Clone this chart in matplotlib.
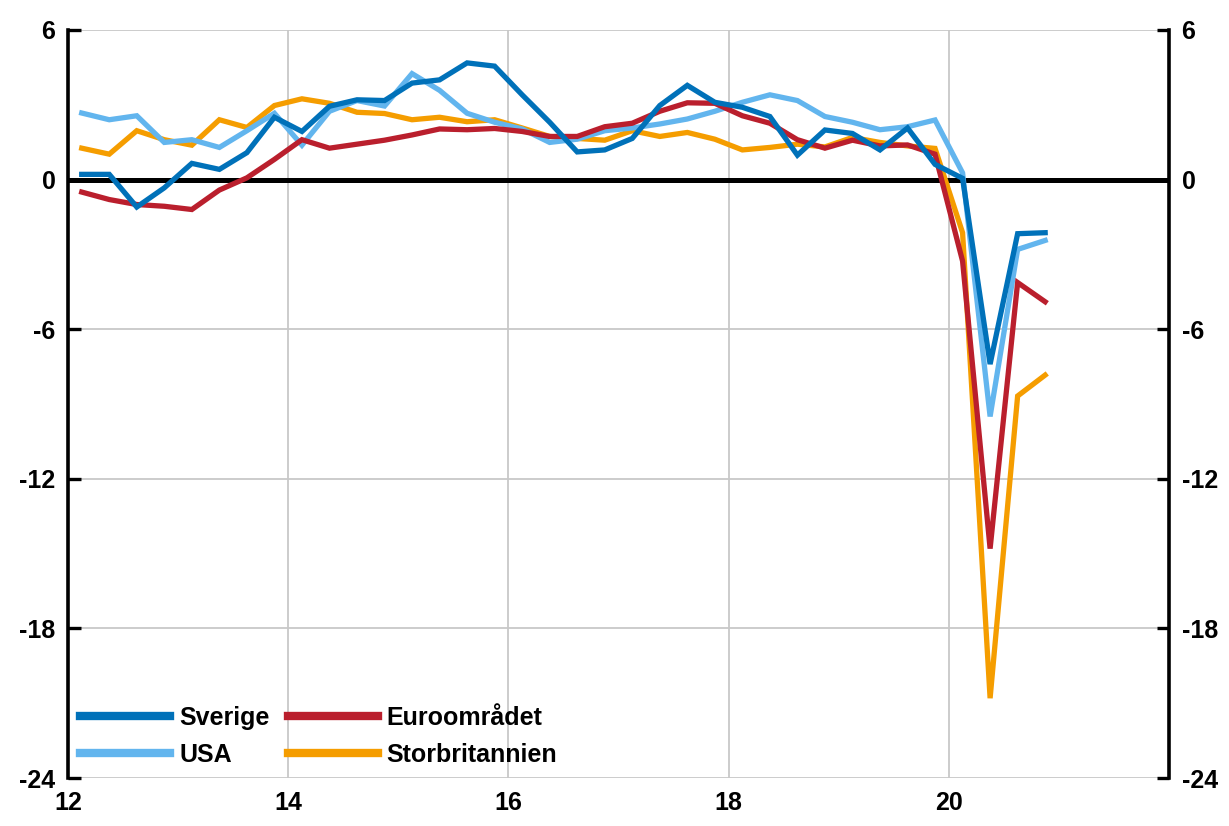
import matplotlib
matplotlib.use("Agg")
import matplotlib.pyplot as plt
import numpy as np

plt.rcParams["font.family"] = ["Liberation Sans", "DejaVu Sans"]
plt.rcParams["font.weight"] = "bold"
plt.rcParams["axes.unicode_minus"] = False

# Quarterly observations 2012 Q1 - 2020 Q4, plotted at mid-quarter
years = np.arange(2012, 2021)
quarter_pos = np.array([(y - 2000) + (q + 0.5) / 4 for y in years for q in range(4)])

sverige = [0.21, 0.21, -1.1, -0.33, 0.65, 0.41, 1.08, 2.5, 1.93, 2.94, 3.2, 3.17,
           3.87, 4.0, 4.68, 4.55, 3.4, 2.3, 1.11, 1.19, 1.65, 2.97, 3.78, 3.1,
           2.9, 2.53, 0.98, 1.99, 1.85, 1.19, 2.07, 0.61, 0.05, -7.4, -2.17, -2.13]
usa = [2.67, 2.4, 2.56, 1.49, 1.6, 1.29, 1.96, 2.66, 1.38, 2.74, 3.17, 2.95,
       4.25, 3.58, 2.66, 2.3, 2.03, 1.49, 1.62, 1.96, 2.07, 2.23, 2.43, 2.74,
       3.1, 3.4, 3.17, 2.53, 2.3, 2.0, 2.12, 2.39, 0.27, -9.5, -2.8, -2.44]
euro = [-0.5, -0.8, -1.0, -1.07, -1.2, -0.42, 0.07, 0.81, 1.6, 1.26, 1.42, 1.58,
        1.79, 2.03, 2.0, 2.05, 1.93, 1.73, 1.73, 2.12, 2.26, 2.74, 3.08, 3.06,
        2.56, 2.26, 1.6, 1.26, 1.58, 1.35, 1.39, 1.02, -3.27, -14.8, -4.13, -4.9]
uk = [1.26, 1.02, 1.96, 1.6, 1.38, 2.4, 2.09, 2.97, 3.24, 3.06, 2.7, 2.65,
      2.4, 2.5, 2.32, 2.4, 2.07, 1.73, 1.65, 1.58, 1.96, 1.73, 1.89, 1.62,
      1.19, 1.29, 1.42, 1.31, 1.69, 1.49, 1.35, 1.25, -2.13, -20.8, -8.68, -7.84]

x_ticks = [12, 14, 16, 18, 20]
y_ticks = [-24, -18, -12, -6, 0, 6]

colors = {
    "Sverige": "#0071B9",
    "USA": "#62B5EE",
    "Euroområdet": "#BA1F2D",
    "Storbritannien": "#F59D00",
}

fig = plt.figure(figsize=(12.29, 8.26), dpi=100)
ax = fig.add_axes([0.0553, 0.0581, 0.8959, 0.9056])

# series drawn bottom to top
lines = {}
for name, vals, z in [("Storbritannien", uk, 3), ("USA", usa, 4),
                      ("Euroområdet", euro, 5), ("Sverige", sverige, 6)]:
    (ln,) = ax.plot(quarter_pos, vals, color=colors[name], lw=3.8, zorder=z,
                    solid_joinstyle="miter", label=name)
    lines[name] = ln

ax.axhline(0, color="black", lw=3.6, zorder=2)

ax.set_xlim(12, 22)
ax.set_ylim(-24, 6)
ax.set_xticks(x_ticks)
ax.set_yticks(y_ticks)
ax.grid(True, color="#C8C8C8", lw=1.3, zorder=0)
ax.set_axisbelow(True)

for side in ["top", "bottom"]:
    ax.spines[side].set_visible(False)
for side in ["left", "right"]:
    ax.spines[side].set_linewidth(2.6)
    ax.spines[side].set_color("black")
    ax.spines[side].set_zorder(7)

ax.tick_params(axis="y", direction="in", length=9, width=2.4, pad=9,
               labelsize=18, left=True, right=True, labelleft=True, labelright=True)
ax.tick_params(axis="x", length=0, pad=9, labelsize=18)
for lab in ax.get_xticklabels() + ax.get_yticklabels():
    lab.set_fontweight("bold")
for t in ax.yaxis.get_major_ticks():
    t.label2.set_fontweight("bold")

handles = [lines["Sverige"], lines["USA"], lines["Euroområdet"], lines["Storbritannien"]]
leg = ax.legend(handles=handles, ncol=2, loc="lower left", bbox_to_anchor=(0.002, 0.002),
                frameon=False, handlelength=3.6, handletextpad=0.36,
                columnspacing=0.72, labelspacing=0.52, borderaxespad=0.0,
                prop={"weight": "bold", "size": 18})
for h in leg.legend_handles:
    h.set_linewidth(6)

fig.savefig("out.png", dpi=100)
